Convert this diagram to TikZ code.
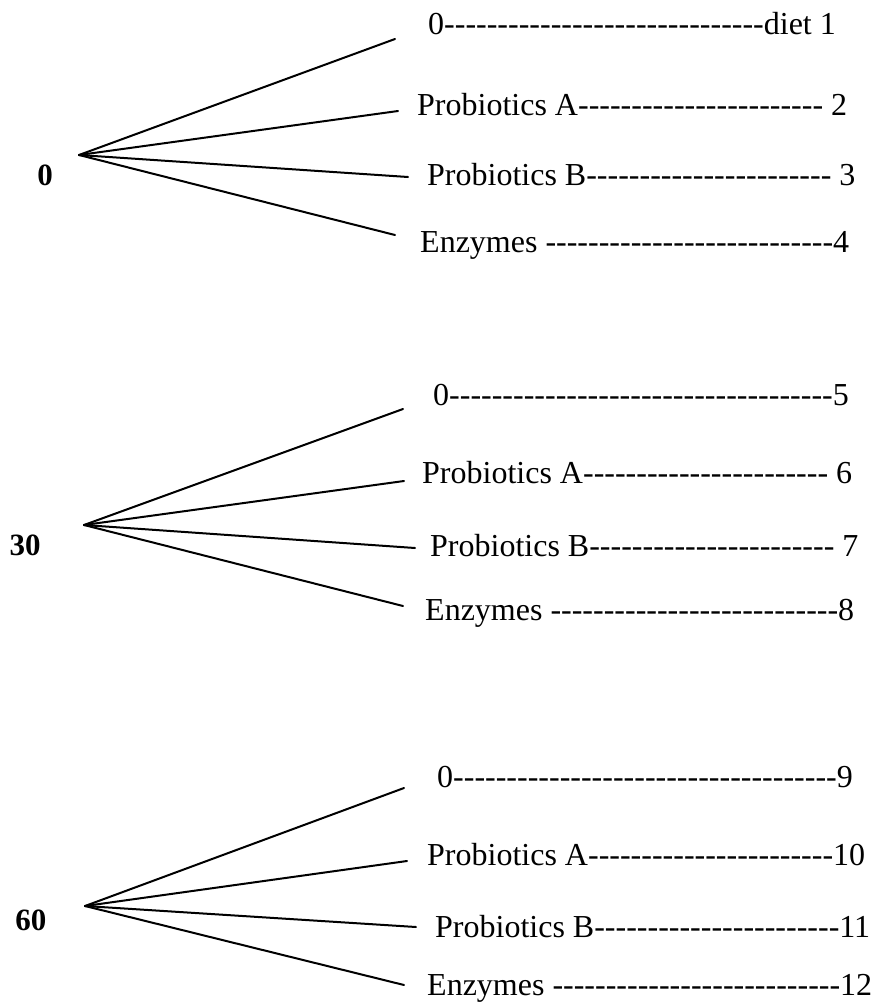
\documentclass[tikz,border=0pt]{standalone}
\usepackage{fontspec}
\setmainfont{Liberation Serif}
\newcount\hycnt
\newcommand\hyrun[1]{\hycnt=#1\relax\loop\ifnum\hycnt>0 -\kern0pt\advance\hycnt by -1\relax\repeat}
\tikzset{
  txt/.style={anchor=base west, inner sep=0pt, font=\fontsize{32}{38}\selectfont},
  lbl/.style={anchor=base, inner sep=0pt, font=\fontsize{31}{37}\selectfont\bfseries},
  branch/.style={line width=2pt, line cap=round}
}
\begin{document}
\begin{tikzpicture}[x=1pt,y=-1pt]
\useasboundingbox[fill=white] (0,0) rectangle (875,1004);
% group 0
\node[lbl] (g1) at (45,185) {0};
\coordinate (a1) at (79,155);
\coordinate (e11) at (395,39);
\coordinate (e12) at (398,111);
\coordinate (e13) at (408,177);
\coordinate (e14) at (395,235);
\foreach \e in {e11,e12,e13,e14} \draw[branch] (a1) -- (\e);
\node[txt] (t1) at (428,34) {0\hyrun{30}diet 1};
\node[txt] (t2) at (417,115) {Probiotics A\hyrun{23} 2};
\node[txt] (t3) at (427,185) {Probiotics B\hyrun{23} 3};
\node[txt] (t4) at (420,252) {Enzymes \hyrun{27}4};
% group 30
\node[lbl] (g2) at (25,555) {30};
\coordinate (a2) at (84,525);
\coordinate (e21) at (403,409);
\coordinate (e22) at (404,481);
\coordinate (e23) at (415,548);
\coordinate (e24) at (403,606);
\foreach \e in {e21,e22,e23,e24} \draw[branch] (a2) -- (\e);
\node[txt] (t5) at (433,405) {0\hyrun{36}5};
\node[txt] (t6) at (422,483) {Probiotics A\hyrun{23} 6};
\node[txt] (t7) at (430,556) {Probiotics B\hyrun{23} 7};
\node[txt] (t8) at (425,620) {Enzymes \hyrun{27}8};
% group 60
\node[lbl] (g3) at (31,930) {60};
\coordinate (a3) at (85,906);
\coordinate (e31) at (404,788);
\coordinate (e32) at (407,861);
\coordinate (e33) at (416,927);
\coordinate (e34) at (404,985);
\foreach \e in {e31,e32,e33,e34} \draw[branch] (a3) -- (\e);
\node[txt] (t9) at (437,787) {0\hyrun{36}9};
\node[txt] (t10) at (427,865) {Probiotics A\hyrun{23}10};
\node[txt] (t11) at (435,937) {Probiotics B\hyrun{23}11};
\node[txt] (t12) at (427,995) {Enzymes \hyrun{27}12};
\end{tikzpicture}
\end{document}
